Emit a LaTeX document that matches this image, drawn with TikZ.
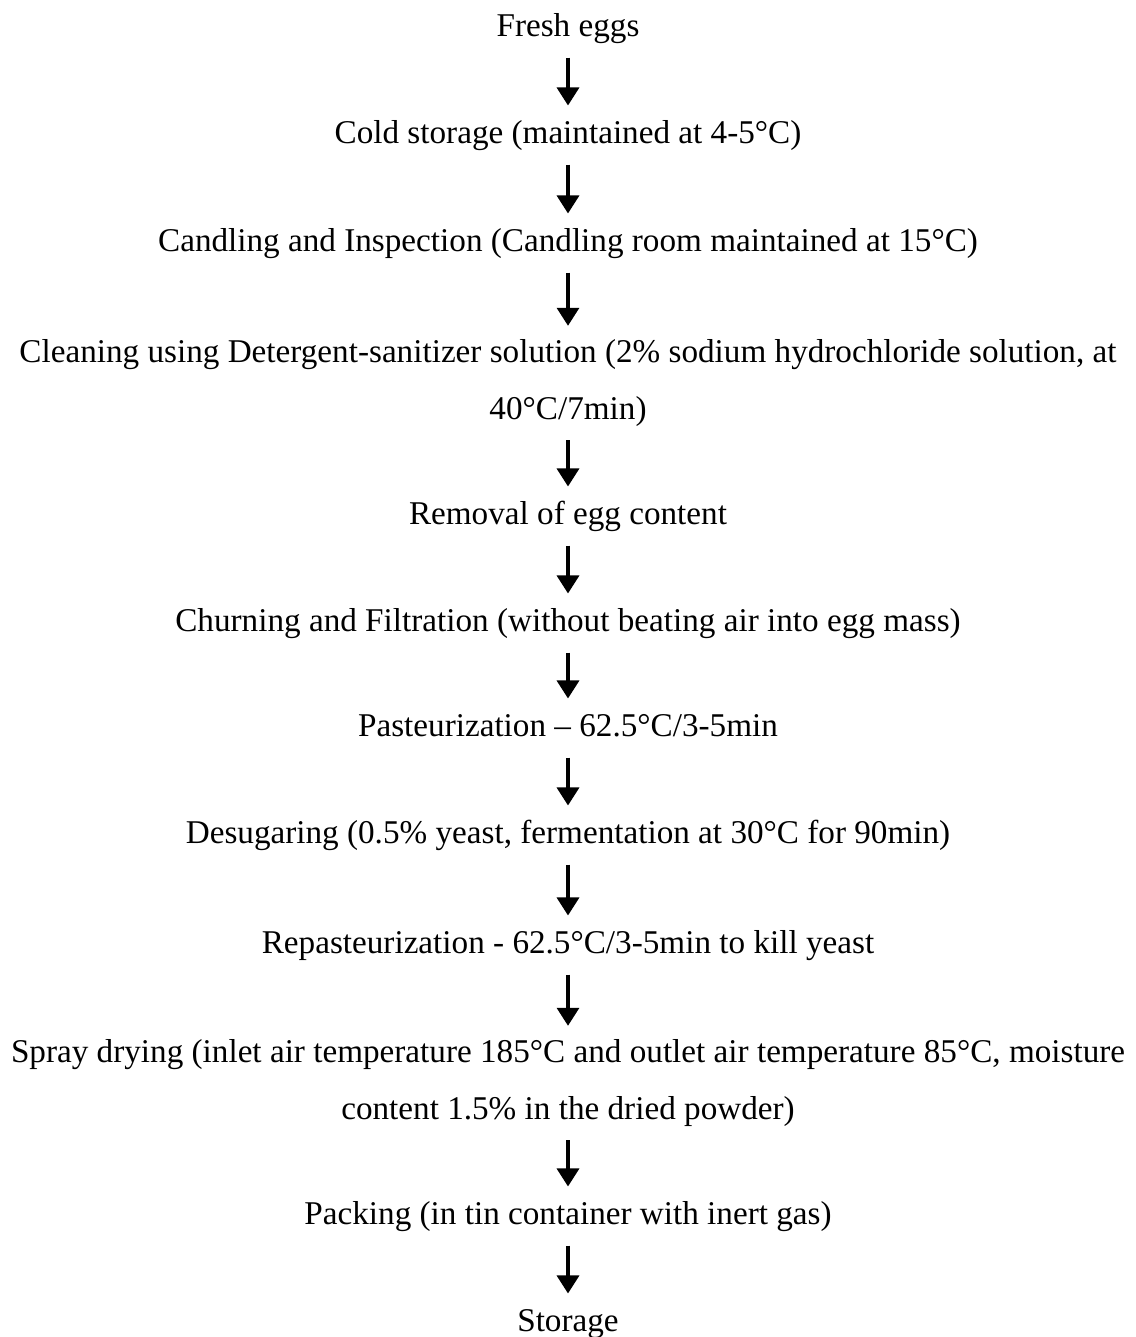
\documentclass[tikz,border=0pt]{standalone}
\usepackage{fontspec}
\setmainfont{Liberation Serif}
\usepackage{tikz}
\usetikzlibrary{arrows.meta, positioning}

\begin{document}
\begin{tikzpicture}[
    x=0.025cm, y=-0.025cm,
    stage/.style={align=center, inner xsep=2pt, inner ysep=10pt, outer sep=0pt,
      font=\fontsize{23.6}{40}\selectfont, text height=17pt, text depth=5pt},
    longstage/.style={stage, text height=, text depth=},
    arrow/.style={-{Triangle[length=0.45cm, width=0.55cm]}, line width=2.4pt}
]
\useasboundingbox (0,0) rectangle (1136,1337);
\node[stage] (fresh) at (568,28) {Fresh eggs};
\node[stage] (cold) at (568,135) {Cold storage (maintained at 4-5°C)};
\node[stage] (candling) at (568,243) {Candling and Inspection (Candling room maintained at 15°C)};
\node[longstage] (cleaning) at (568,383) {Cleaning using Detergent-sanitizer solution (2\% sodium hydrochloride solution, at\\40°C/7min)};
\node[stage] (removal) at (568,516) {Removal of egg content};
\node[stage] (churning) at (568,623) {Churning and Filtration (without beating air into egg mass)};
\node[stage] (pasteur) at (568,728) {Pasteurization – 62.5°C/3-5min};
\node[stage] (desugar) at (568,835) {Desugaring (0.5\% yeast, fermentation at 30°C for 90min)};
\node[stage] (repasteur) at (568,945) {Repasteurization - 62.5°C/3-5min to kill yeast};
\node[longstage] (spray) at (568,1083) {Spray drying (inlet air temperature 185°C and outlet air temperature 85°C, moisture\\content 1.5\% in the dried powder)};
\node[stage] (packing) at (568,1216) {Packing (in tin container with inert gas)};
\node[stage] (storage) at (568,1323) {Storage};
\draw[arrow] (fresh) -- (cold);
\draw[arrow] (cold) -- (candling);
\draw[arrow] (candling) -- (cleaning);
\draw[arrow] (cleaning) -- (removal);
\draw[arrow] (removal) -- (churning);
\draw[arrow] (churning) -- (pasteur);
\draw[arrow] (pasteur) -- (desugar);
\draw[arrow] (desugar) -- (repasteur);
\draw[arrow] (repasteur) -- (spray);
\draw[arrow] (spray) -- (packing);
\draw[arrow] (packing) -- (storage);
\end{tikzpicture}
\end{document}
